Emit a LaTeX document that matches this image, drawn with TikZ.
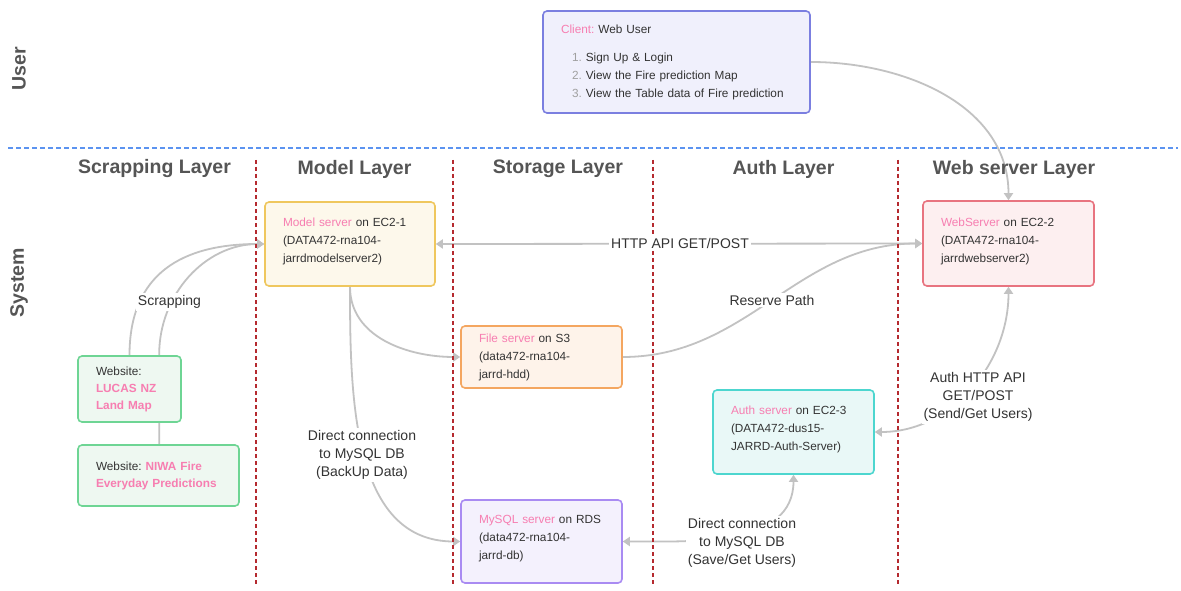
\documentclass[tikz,border=0pt]{standalone}
\usepackage{fontspec}
\setmainfont{Liberation Sans}
\usepackage{xcolor}
\usetikzlibrary{arrows.meta,backgrounds}
\definecolor{txt}{HTML}{333333}
\definecolor{headgray}{HTML}{555555}
\definecolor{hilite}{HTML}{F77EB1}
\definecolor{numgray}{HTML}{A0A0A0}
\definecolor{linkgray}{HTML}{C2C2C2}
\definecolor{sepred}{HTML}{B52A2F}
\definecolor{sepblue}{HTML}{5B93F0}
\definecolor{clientline}{HTML}{7B7FE0}
\definecolor{clientbg}{HTML}{F0F0FC}
\definecolor{modelline}{HTML}{EFC75E}
\definecolor{modelbg}{HTML}{FDF8EB}
\definecolor{webline}{HTML}{E87480}
\definecolor{webbg}{HTML}{FDEFF0}
\definecolor{fileline}{HTML}{F4A660}
\definecolor{filebg}{HTML}{FEF3EA}
\definecolor{authline}{HTML}{4DD6CF}
\definecolor{authbg}{HTML}{E9F8F7}
\definecolor{sqlline}{HTML}{A98BF2}
\definecolor{sqlbg}{HTML}{F4F1FD}
\definecolor{siteline}{HTML}{6ED594}
\definecolor{sitebg}{HTML}{EEF8F1}
\newcommand{\hl}[1]{\textcolor{hilite}{#1}}
\frenchspacing

\begin{document}
\begin{tikzpicture}[x=1pt,y=1pt,
	>={Triangle[length=7pt,width=9pt]},
	box/.style={draw, rounded corners=4pt, line width=1.6pt, align=left, inner xsep=18pt, text=txt, font=\fontsize{11.8}{18}\selectfont},
	srvbox/.style={box, execute at end node={\endgraf\vspace*{5pt}}},
	sitebox/.style={box, draw=siteline, fill=sitebg, font=\fontsize{11.8}{17}\selectfont},
	head/.style={text=headgray, font=\fontsize{19.5}{22}\selectfont\bfseries},
	lbl/.style={fill=white, inner sep=2pt, align=center, text=txt, font=\fontsize{14}{18}\selectfont},
	link/.style={draw=linkgray, line width=1.8pt},
	sep/.style={draw=sepred, line width=1.2pt, dash pattern=on 4pt off 3pt}]
	\useasboundingbox (0,0) rectangle (1181,-591);

	\node[head, rotate=90] (huser) at (19,-69) {User};
	\node[head, rotate=90] (hsystem) at (19,-283) {System};
	\draw[draw=sepblue, line width=1.2pt, dash pattern=on 5pt off 3pt] (8,-148) -- (1178,-148);

	\node[head] (hscrap) at (154.5,-169) {Scrapping Layer};
	\node[head] (hmodel) at (354.5,-169) {Model Layer};
	\node[head] (hstore) at (558,-169) {Storage Layer};
	\node[head] (hauth) at (783.5,-169) {Auth Layer};
	\node[head] (hweb) at (1014,-169) {Web server Layer};
	\draw[sep] (256,-160) -- (256,-585);
	\draw[sep] (453,-160) -- (453,-585);
	\draw[sep] (653,-160) -- (653,-585);
	\draw[sep] (898,-160) -- (898,-585);

	\node[box, draw=clientline, fill=clientbg, text width=231pt, minimum height=102pt] (client) at (676.5,-62)
		{\hl{Client:} Web User\\[10pt]
		\hspace*{11pt}\textcolor{numgray}{1.} Sign Up \& Login\\
		\hspace*{11pt}\textcolor{numgray}{2.} View the Fire prediction Map\\
		\hspace*{11pt}\textcolor{numgray}{3.} View the Table data of Fire prediction};
	\node[srvbox, draw=modelline, fill=modelbg, text width=134pt, minimum height=84pt] (model) at (350,-244)
		{\hl{Model server} on EC2-1\\(DATA472-rna104-\\jarrdmodelserver2)};
	\node[srvbox, draw=webline, fill=webbg, text width=135pt, minimum height=85pt] (web) at (1008.5,-243.5)
		{\hl{WebServer} on EC2-2\\(DATA472-rna104-\\jarrdwebserver2)};
	\node[box, draw=fileline, fill=filebg, text width=125pt, minimum height=62pt] (file) at (541.5,-357)
		{\hl{File server} on S3\\(data472-rna104-\\jarrd-hdd)};
	\node[srvbox, draw=authline, fill=authbg, text width=125pt, minimum height=84pt] (auth) at (793.5,-432)
		{\hl{Auth server} on EC2-3\\(DATA472-dus15-\\JARRD-Auth-Server)};
	\node[srvbox, draw=sqlline, fill=sqlbg, text width=125pt, minimum height=83pt] (mysql) at (541.5,-541.5)
		{\hl{MySQL server} on RDS\\(data472-rna104-\\jarrd-db)};
	\node[sitebox, text width=67pt, minimum height=66pt] (lucas) at (129.5,-389)
		{Website:\\\hl{\bfseries LUCAS NZ}\\\hl{\bfseries Land Map}};
	\node[sitebox, text width=125pt, minimum height=61pt] (niwa) at (158.5,-475.5)
		{Website: \hl{\bfseries NIWA Fire}\\\hl{\bfseries Everyday Predictions}};

	\node[lbl] (lscrap) at (169.5,-302) {Scrapping};
	\node[lbl] (lhttp) at (680,-243) {HTTP API GET/POST};
	\node[lbl] (lreserve) at (772,-300) {Reserve Path};
	\node[lbl] (lbackup) at (362,-455) {Direct connection\\to MySQL DB\\(BackUp Data)};
	\node[lbl] (lauthapi) at (978,-397) {Auth HTTP API\\GET/POST\\(Send/Get Users)};
	\node[lbl] (lusers) at (742,-543) {Direct connection\\to MySQL DB\\(Save/Get Users)};

	\begin{scope}[on background layer]
		\fill[white] (0,0) rectangle (1181,-591);
		\draw[link,->] (client.east) to[out=0,in=90] (web.north);
		\draw[link,<->] (model.east) -- (web.west);
		\draw[link,->] (lucas.north) to[out=90,in=180,looseness=1.2] (model.west);
		\draw[link,->] ([xshift=82pt]niwa.north west) -- ++(0,90) to[out=90,in=180] (model.west);
		\draw[link,->] (model.south) to[out=-90,in=180] (file.west);
		\draw[link,->] (model.south) to[out=-90,in=180] (mysql.west);
		\draw[link,->] (file.east) to[out=0,in=180] (web.west);
		\draw[link,<->] (web.south) to[out=-90,in=0] (auth.east);
		\draw[link,<->] (auth.south) to[out=-90,in=0] (mysql.east);
	\end{scope}
\end{tikzpicture}
\end{document}
